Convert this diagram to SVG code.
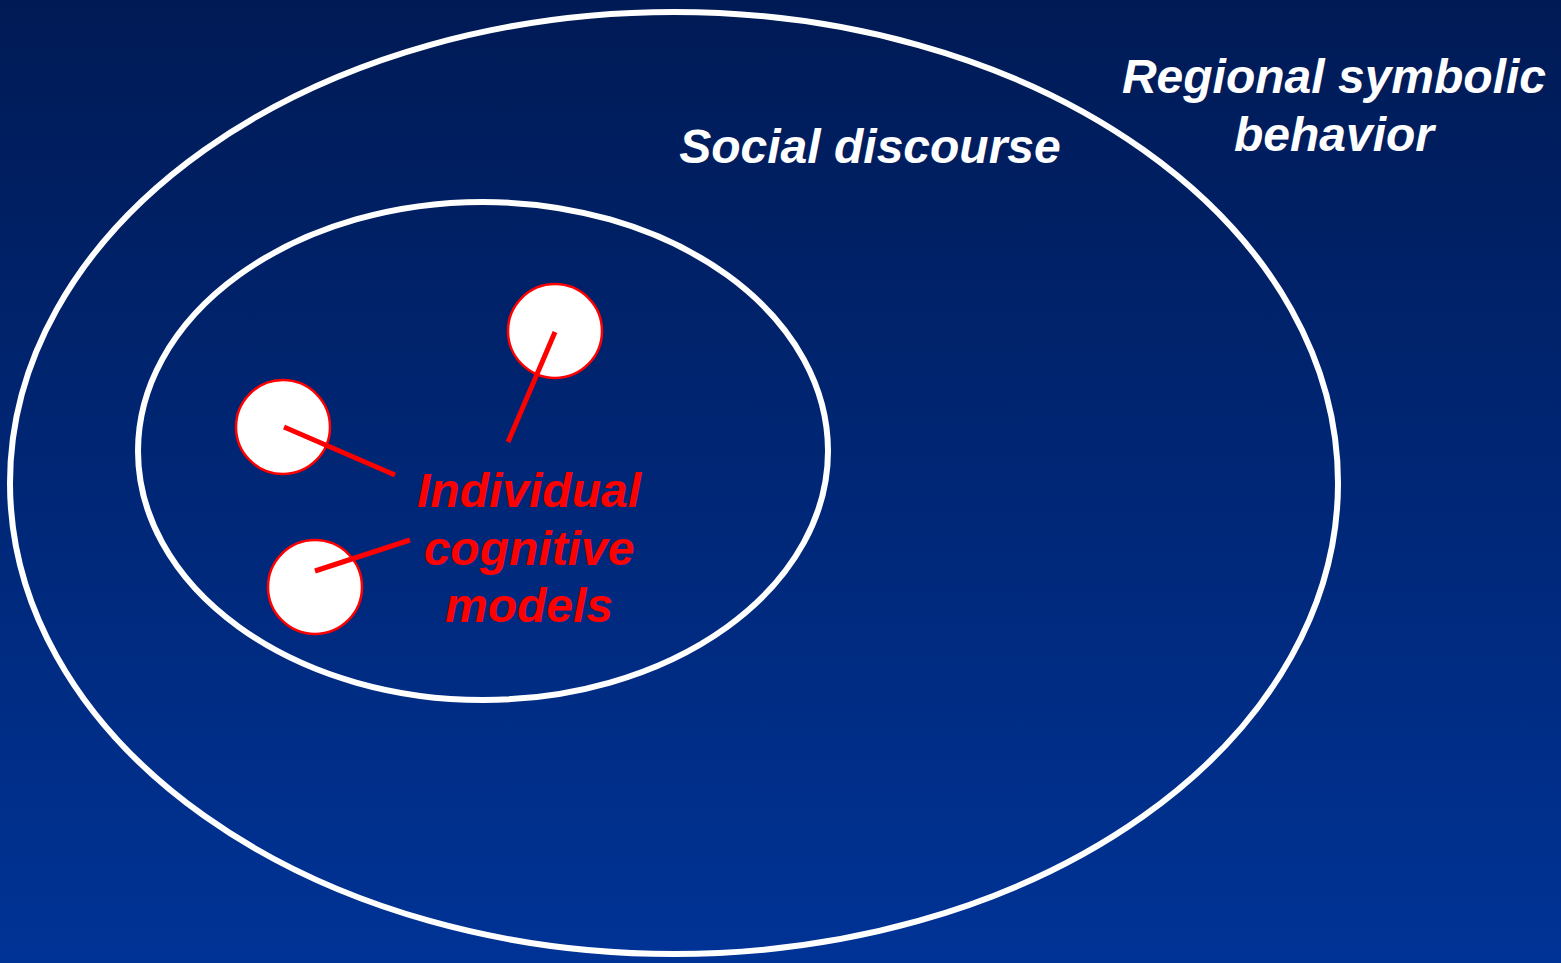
<svg xmlns="http://www.w3.org/2000/svg" width="1561" height="963" viewBox="0 0 1561 963">
<defs>
<linearGradient id="bg" x1="0" y1="0" x2="0" y2="1">
<stop offset="0" stop-color="#001a55"/>
<stop offset="1" stop-color="#003396"/>
</linearGradient>
</defs>
<style>
.ring{fill:none;stroke:#ffffff;stroke-width:6}
.dot{fill:#ffffff;stroke:#ff0000;stroke-width:2.5}
.lead{stroke:#ff0000;stroke-width:5;fill:none}
.lbl{font-family:"Liberation Sans",Arial,sans-serif;font-weight:bold;font-style:italic;font-size:48px;text-anchor:middle}
.w{fill:#ffffff}
.r{fill:#ff0000}
</style>
<rect x="0" y="0" width="1561" height="963" fill="url(#bg)"/>
<g id="regional">
<ellipse class="ring" cx="674" cy="483" rx="664" ry="471"/>
<text class="lbl w" x="1334" y="93">Regional symbolic</text>
<text class="lbl w" x="1334" y="151">behavior</text>
</g>
<g id="social">
<ellipse class="ring" cx="483" cy="451" rx="345" ry="249"/>
<text class="lbl w" x="870" y="163">Social discourse</text>
</g>
<g id="model1"><circle class="dot" cx="555" cy="331" r="47"/></g>
<g id="model2"><circle class="dot" cx="283" cy="427" r="47"/></g>
<g id="model3"><circle class="dot" cx="315" cy="587" r="47"/></g>
<g id="connectors">
<line class="lead" x1="555" y1="332" x2="508" y2="442"/>
<line class="lead" x1="284" y1="427" x2="395" y2="475"/>
<line class="lead" x1="315" y1="571" x2="410" y2="540"/>
</g>
<g id="individual">
<text class="lbl r" x="529" y="507">Individual</text>
<text class="lbl r" x="529" y="565">cognitive</text>
<text class="lbl r" x="529" y="622">models</text>
</g>
</svg>
